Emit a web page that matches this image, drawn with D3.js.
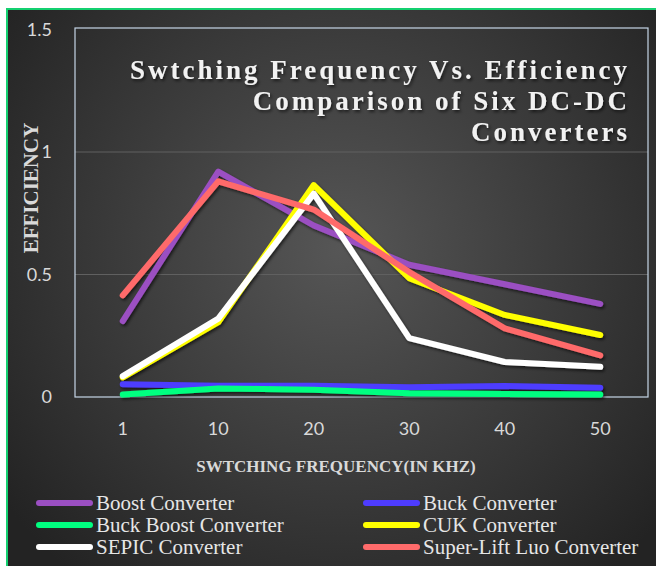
<!DOCTYPE html>
<html>
<head>
<meta charset="utf-8">
<script src="https://cdn.jsdelivr.net/npm/d3@7"></script>
<style>
  html, body { margin: 0; padding: 0; background: #fff; }
  svg { display: block; }
</style>
</head>
<body>
<div id="chart"></div>
<script>
// data
const freqs = ['1', '10', '20', '30', '40', '50'];
const seriesNames = ['Boost Converter', 'Buck Converter', 'Buck Boost Converter', 'CUK Converter', 'SEPIC Converter', 'Super-Lift Luo Converter'];
const seriesColors = ['#9b4fc2', '#4e3cff', '#00ff80', '#ffff00', '#ffffff', '#ff6b6b'];
const boost = [0.31, 0.92, 0.70, 0.54, 0.46, 0.38];
const buck = [0.052, 0.046, 0.046, 0.040, 0.045, 0.038];
const buckBoost = [0.010, 0.035, 0.030, 0.015, 0.012, 0.010];
const cuk = [0.08, 0.305, 0.865, 0.485, 0.335, 0.253];
const sepic = [0.085, 0.32, 0.83, 0.24, 0.143, 0.123];
const luo = [0.415, 0.88, 0.765, 0.51, 0.28, 0.17];
const yTicks = [0, 0.5, 1, 1.5];
const titleLines = ['Swtching Frequency Vs. Efficiency', 'Comparison of Six DC-DC', 'Converters'];

(function(){
  const W = 656, H = 566;
  const svg = d3.select('#chart').append('svg').attr('width', W).attr('height', H);
  const defs = svg.append('defs');

  const grad = defs.append('radialGradient').attr('id', 'bg')
    .attr('gradientUnits', 'userSpaceOnUse')
    .attr('cx', 340).attr('cy', 250).attr('r', 420);
  grad.append('stop').attr('offset', '0%').attr('stop-color', '#565656');
  grad.append('stop').attr('offset', '100%').attr('stop-color', '#232323');

  const shadow = defs.append('filter').attr('id', 'shadow').attr('x', '-10%').attr('y', '-10%').attr('width', '120%').attr('height', '130%');
  shadow.append('feDropShadow').attr('dx', 1.5).attr('dy', 2).attr('stdDeviation', 1.5).attr('flood-color', '#000').attr('flood-opacity', 0.6);

  // chart area + green edge
  svg.append('rect').attr('x', 7).attr('y', 9).attr('width', W - 7).attr('height', H - 9).attr('fill', 'url(#bg)');
  svg.append('path').attr('d', `M7,${H} V9 H${W}`).attr('fill', 'none').attr('stroke', '#14d070').attr('stroke-width', 2);

  const left = 75, right = 648, top = 28, bottom = 397;
  const x = d3.scalePoint().domain(freqs).range([left, right]).padding(0.5);
  const y = d3.scaleLinear().domain([0, 1.5]).range([bottom, top + 1.5]);

  // gridlines
  svg.append('g').selectAll('line').data(yTicks.filter(t => t > 0 && t < 1.5)).join('line')
    .attr('x1', left).attr('x2', right)
    .attr('y1', d => y(d)).attr('y2', d => y(d))
    .attr('stroke', '#606060').attr('stroke-width', 1);

  // plot frame
  svg.append('rect').attr('x', left).attr('y', top).attr('width', right - left).attr('height', bottom - top)
    .attr('fill', 'none').attr('stroke', '#c5d5e6').attr('stroke-width', 1.2);

  // y tick labels
  svg.append('g').selectAll('text').data(yTicks).join('text')
    .attr('x', 52).attr('y', d => y(d)).attr('dy', '0.35em')
    .attr('text-anchor', 'end')
    .style('font-family', 'Lato, "Open Sans", sans-serif').style('font-size', '18px').style('fill', '#d9d9d9')
    .text(d => d);

  // x tick labels
  svg.append('g').selectAll('text').data(freqs).join('text')
    .attr('x', d => x(d)).attr('y', 435)
    .attr('text-anchor', 'middle')
    .style('font-family', 'Lato, "Open Sans", sans-serif').style('font-size', '18px').style('fill', '#d9d9d9')
    .text(d => d);

  // axis titles
  svg.append('text')
    .attr('transform', 'translate(38,188) rotate(-90)')
    .attr('text-anchor', 'middle')
    .style('font-family', '"Liberation Serif", "Times New Roman", serif').style('font-weight', 700)
    .style('font-size', '21px').style('fill', '#d9d9d9')
    .text('EFFICIENCY');

  svg.append('text')
    .attr('x', 336).attr('y', 472)
    .attr('text-anchor', 'middle')
    .style('font-family', '"Liberation Serif", "Times New Roman", serif').style('font-weight', 700)
    .style('font-size', '17px').style('fill', '#d9d9d9')
    .text('SWTCHING FREQUENCY(IN KHZ)');

  // title (right aligned, letter-spaced, shadow)
  svg.append('g').attr('filter', 'url(#shadow)').selectAll('text').data(titleLines).join('text')
    .attr('x', 630).attr('y', (d, i) => 79 + i * 31)
    .attr('text-anchor', 'end')
    .style('font-family', '"Liberation Serif", "Times New Roman", serif').style('font-weight', 700)
    .style('font-size', '27px').style('letter-spacing', '3px').style('fill', '#f2f2f2')
    .text(d => d);

  // lines
  const allSeries = [boost, buck, buckBoost, cuk, sepic, luo];
  const line = d3.line().x((d, i) => x(freqs[i])).y(d => y(d));
  svg.append('g').attr('filter', 'url(#shadow)').selectAll('path').data(allSeries).join('path')
    .attr('d', line)
    .attr('fill', 'none')
    .attr('stroke', (d, i) => seriesColors[i])
    .attr('stroke-width', 6)
    .attr('stroke-linecap', 'round')
    .attr('stroke-linejoin', 'round');

  // legend
  const legend = svg.append('g');
  const colX = [36, 363], rowY = [503, 525, 547];
  seriesNames.forEach((name, i) => {
    const lx = colX[i % 2], ly = rowY[Math.floor(i / 2)];
    legend.append('line').attr('x1', lx + 3).attr('x2', lx + 54).attr('y1', ly).attr('y2', ly)
      .attr('stroke', seriesColors[i]).attr('stroke-width', 6).attr('stroke-linecap', 'round');
    legend.append('text').attr('x', lx + 60).attr('y', ly).attr('dy', '0.33em')
      .style('font-family', '"Liberation Serif", "Times New Roman", serif')
      .style('font-size', '21px').style('fill', '#e6e6e6')
      .text(name);
  });
})();
</script>
</body>
</html>
